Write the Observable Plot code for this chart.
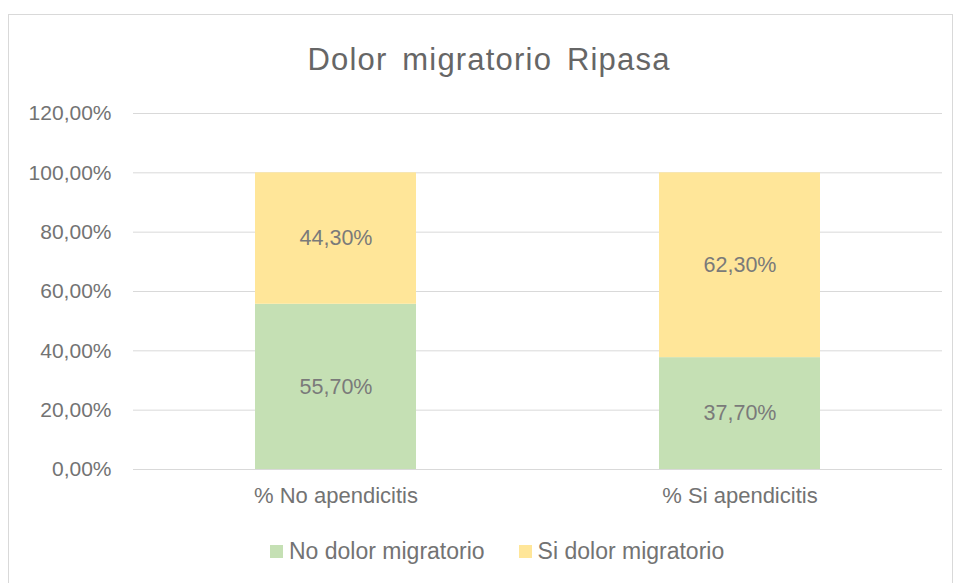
<!DOCTYPE html>
<html>
<head>
<meta charset="utf-8">
<script src="https://cdn.jsdelivr.net/npm/d3@7"></script>
<script src="https://cdn.jsdelivr.net/npm/@observablehq/plot@0.6"></script>
<style>
  html, body { margin: 0; padding: 0; background: #fff; }
  body { width: 955px; height: 583px; position: relative; overflow: hidden; font-family: "Liberation Sans", Arial, sans-serif; }
  #frame { position: absolute; left: 8px; top: 14px; width: 945px; height: 580px; border: 1.5px solid #d9d9d9; box-sizing: border-box; }
  #title { position: absolute; top: 42px; left: 489px; transform: translateX(-50%); font-size: 31px; color: #666666; letter-spacing: 1.2px; word-spacing: 5px; white-space: nowrap; }
  #chart { position: absolute; left: 0; top: 0; }
  #legend { position: absolute; left: 270px; top: 538px; display: flex; align-items: center; font-size: 23px; color: #737373; white-space: nowrap; }
  .sw { width: 13px; height: 13px; display: inline-block; margin-right: 6px; }
  .item { display: flex; align-items: center; margin-right: 34px; }
</style>
</head>
<body>
<div id="frame"></div>
<div id="chart"></div>
<div id="title">Dolor migratorio Ripasa</div>
<div id="legend"></div>
<script>
const categories = ["% No apendicitis", "% Si apendicitis"];
const seriesNames = ["No dolor migratorio", "Si dolor migratorio"];
const seriesColors = ["#C5E0B4", "#FFE699"];
const noDolor = [55.7, 37.7];
const siDolor = [44.3, 62.3];
const yTicks = [0, 20, 40, 60, 80, 100, 120];

const data = [];
categories.forEach((c, i) => {
  data.push({cat: c, series: seriesNames[0], value: noDolor[i]});
  data.push({cat: c, series: seriesNames[1], value: siDolor[i]});
});

const fmt = v => v.toFixed(2).replace(".", ",") + "%";

const chart = Plot.plot({
  width: 955,
  height: 583,
  marginTop: 113,
  marginBottom: 114,
  marginLeft: 133,
  marginRight: 13,
  style: { fontFamily: "'Liberation Sans', Arial, sans-serif", background: "transparent" },
  x: { domain: categories, paddingInner: 0.602, paddingOuter: 0.301, label: null },
  y: { domain: [0, 120], label: null },
  color: { domain: seriesNames, range: seriesColors },
  marks: [
    Plot.gridY(yTicks, { stroke: "#d9d9d9", strokeOpacity: 1, strokeWidth: 1 }),
    Plot.barY(data, Plot.stackY({ x: "cat", y: "value", fill: "series", order: seriesNames })),
    Plot.text(data, Plot.stackY({ x: "cat", y: "value", z: "series", order: seriesNames, text: d => fmt(d.value), fill: "#7a7a7a", fontSize: 21.5 })),
    Plot.axisY({ ticks: yTicks, tickFormat: fmt, tickSize: 0, tickPadding: 22, fontSize: 21, color: "#737373", label: null }),
    Plot.axisX({ tickSize: 0, tickPadding: 18, fontSize: 22, color: "#737373", label: null })
  ]
});
document.getElementById("chart").appendChild(chart);

const legend = document.getElementById("legend");
seriesNames.forEach((s, i) => {
  const item = document.createElement("div");
  item.className = "item";
  const sw = document.createElement("span");
  sw.className = "sw";
  sw.style.background = seriesColors[i];
  const t = document.createElement("span");
  t.textContent = s;
  item.appendChild(sw);
  item.appendChild(t);
  legend.appendChild(item);
});
</script>
</body>
</html>
